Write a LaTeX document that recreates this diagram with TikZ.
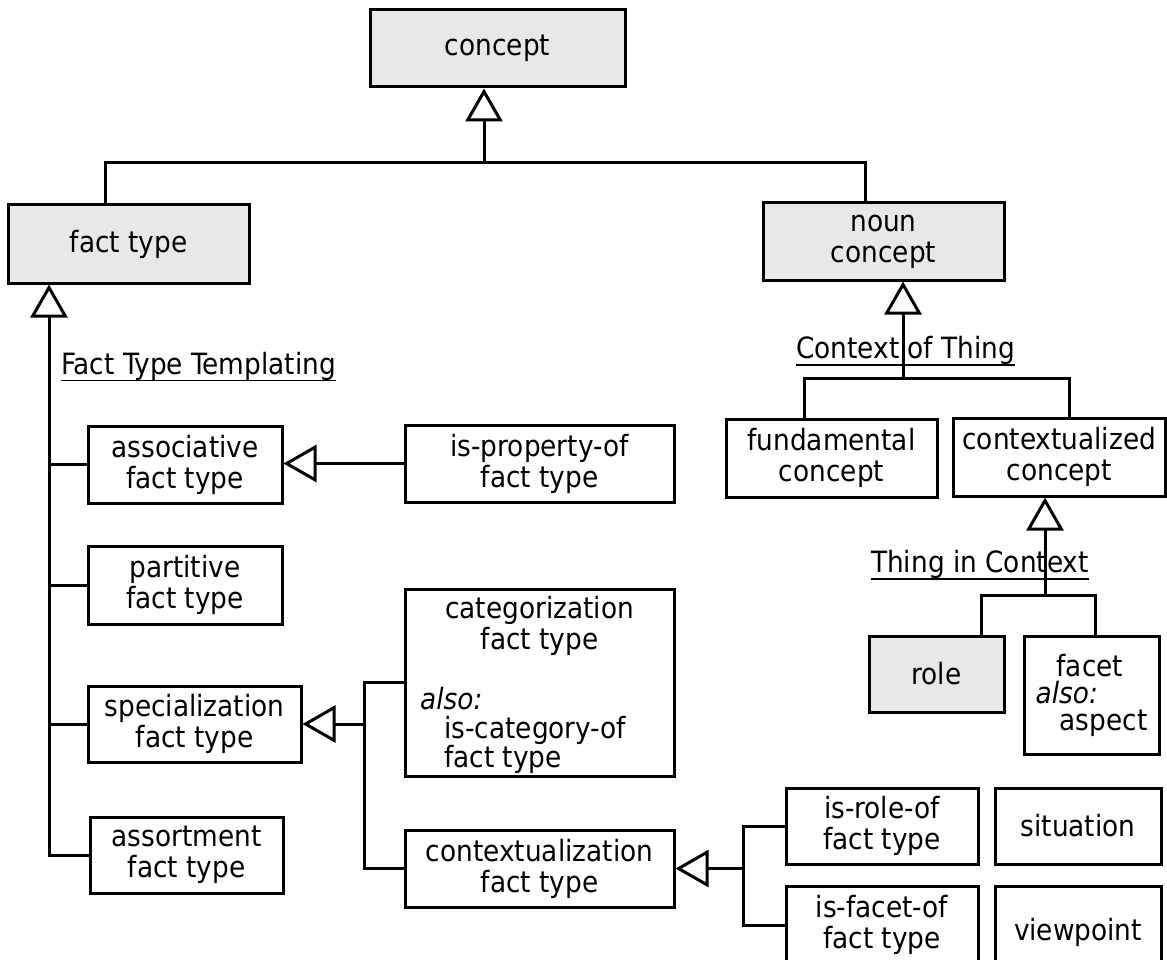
\documentclass[tikz,border=0pt]{standalone}
\usepackage{fontspec}
\setmainfont{DejaVuSansCondensed}[Extension=.ttf, ItalicFont=DejaVuSansCondensed-Oblique]
\usetikzlibrary{arrows.meta}
\definecolor{keygray}{HTML}{E8E8E8}
\tikzset{
  cls/.style={draw, line width=3pt, inner sep=0pt, align=center},
  key/.style={cls, fill=keygray},
  ln/.style={line width=3pt},
  gen/.style={ln, -{Triangle[open, length=33pt, width=37pt, line width=3pt]}},
  tag/.style={inner sep=0pt, anchor=base west},
  uline/.style={line width=1.5pt}
}
\begin{document}
\begin{tikzpicture}[x=1pt, y=-1pt, font=\fontsize{29.3pt}{31pt}\selectfont]
\useasboundingbox (0,0) rectangle (1167,960);
\node[key, minimum width=255pt, minimum height=77pt] (concept) at (497.5,48.5) {concept};
\node[key, minimum width=241pt, minimum height=78pt] (facttype) at (128.5,244) {fact type};
\node[key, minimum width=241pt, minimum height=77pt] (noun) at (883.5,241.5) {noun\\concept};
\node[cls, minimum width=211pt, minimum height=78pt] (fund) at (831.5,458) {fundamental\\concept};
\node[cls, minimum width=212.5pt, minimum height=78pt] (ctxc) at (1059.25,457) {contextualized\\concept};
\node[key, minimum width=135pt, minimum height=76pt] (role) at (936.5,674) {role};
\node[cls, minimum width=135pt, minimum height=118pt, align=left, font=\fontsize{29.3pt}{27pt}\selectfont] (facet) at (1091.5,695) {\hspace*{21pt}facet\\\textit{also:}\\\hspace*{24pt}aspect};
\node[cls, minimum width=194pt, minimum height=77pt] (assoc) at (185,464.5) {associative\\fact type};
\node[cls, minimum width=269pt, minimum height=77pt] (isprop) at (539.5,463.5) {is-property-of\\fact type};
\node[cls, minimum width=194pt, minimum height=78pt] (partitive) at (185,585) {partitive\\fact type};
\node[cls, minimum width=269pt, minimum height=187pt] (categ) at (539.5,682.5) {};
\node[inner sep=0pt, align=center] (catname) at (539.5,626) {categorization\\fact type};
\node[inner sep=0pt, align=left, anchor=west, font=\fontsize{29.3pt}{29pt}\selectfont] (catalso) at (420,730) {\textit{also:}\\\hspace*{24pt}is-category-of\\\hspace*{24pt}fact type};
\node[cls, minimum width=213pt, minimum height=76pt] (special) at (194.5,724) {specialization\\fact type};
\node[cls, minimum width=193pt, minimum height=76pt] (assort) at (186.5,855) {assortment\\fact type};
\node[cls, minimum width=269pt, minimum height=77pt] (ctxft) at (539.5,868.5) {contextualization\\fact type};
\node[cls, minimum width=192pt, minimum height=76pt] (isrole) at (882,826) {is-role-of\\fact type};
\node[cls, minimum width=166pt, minimum height=76pt] (situation) at (1078,826) {situation};
\node[cls, minimum width=192pt, minimum height=78pt] (isfacet) at (882,925) {is-facet-of\\fact type};
\node[cls, minimum width=166pt, minimum height=92pt] (viewpoint) at (1078,932) {viewpoint};
\node[tag] (ftt) at (61,374) {Fact Type Templating};
\draw[uline] ([yshift=-6.5pt]ftt.base west) -- ([yshift=-6.5pt]ftt.base east);
\node[tag] (cot) at (796,358) {Context of Thing};
\draw[uline] ([yshift=-7pt]cot.base west) -- ([yshift=-7pt]cot.base east);
\node[tag] (tic) at (871,572) {Thing in Context};
\draw[uline] ([yshift=-7pt]tic.base west) -- ([yshift=-7pt]tic.base east);
\coordinate (top) at (484,163);
\draw[gen] ([xshift=-23.5pt]facttype.north) |- (top) -- (top |- concept.south);
\draw[ln] ([xshift=-18.5pt]noun.north) |- (top);
\coordinate (spine) at (49,0);
\draw[gen] (assort.west) -| (spine |- facttype.south);
\foreach \n in {assoc,partitive,special}
  \draw[ln] (\n.west) -- (spine |- \n.west);
\draw[gen] (isprop.west) -- (isprop.west -| assoc.east);
\coordinate (sbus) at (364,724);
\draw[gen] (sbus) -- (special.east);
\draw[ln] (categ.west) -| (sbus) |- (ctxft.west);
\coordinate (cbus) at (743,868.5);
\draw[gen] (cbus) -- (ctxft.east);
\draw[ln] (isrole.west) -| (cbus) |- (isfacet.west);
\coordinate (nbus) at (903,378);
\draw[gen] (nbus) -- (nbus |- noun.south);
\draw[ln] ([xshift=-27.5pt]fund.north) |- (nbus) -| ([xshift=9.75pt]ctxc.north);
\coordinate (rbus) at (1045,595);
\draw[gen] (rbus) -- (rbus |- ctxc.south);
\draw[ln] ([xshift=44.5pt]role.north) |- (rbus) -| ([xshift=3.5pt]facet.north);
\end{tikzpicture}
\end{document}
